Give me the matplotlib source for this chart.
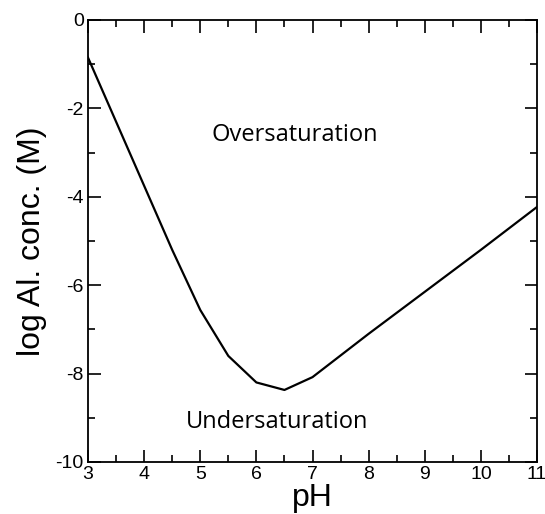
import matplotlib
matplotlib.use("Agg")
import matplotlib.pyplot as plt
from matplotlib.ticker import MultipleLocator

plt.rcParams["axes.unicode_minus"] = False

ph = [3.0, 3.5, 4.0, 4.5, 5.0, 5.5, 6.0, 6.5, 7.0, 8.0, 9.0, 10.0, 11.0]
log_al = [-0.85, -2.3, -3.75, -5.2, -6.56, -7.6, -8.2, -8.37, -8.08, -7.1, -6.15, -5.2, -4.23]

region_labels = ["Oversaturation", "Undersaturation"]
region_x = [6.68, 6.36]
region_y = [-2.6, -9.09]

fig = plt.figure(figsize=(5.45, 5.14), dpi=100)
ax = fig.add_axes([88/545, 52/514, (537-88)/545, (462-20)/514])

ax.plot(ph, log_al, color="black", linewidth=1.6)

for t, x, y in zip(region_labels, region_x, region_y):
    ax.text(x, y, t, ha="center", va="center", fontsize=17, family="Open Sans")

ax.set_xlim(3, 11)
ax.set_ylim(-10, 0)
ax.xaxis.set_major_locator(MultipleLocator(1))
ax.xaxis.set_minor_locator(MultipleLocator(0.5))
ax.yaxis.set_major_locator(MultipleLocator(2))
ax.yaxis.set_minor_locator(MultipleLocator(1))
ax.tick_params(which="both", direction="in", top=True, right=True, width=1.2,
               labelsize=14, pad=3)
ax.tick_params(which="major", length=9)
ax.tick_params(which="minor", length=5)
for lab in ax.get_xticklabels() + ax.get_yticklabels():
    lab.set_family("Liberation Sans")
for s in ax.spines.values():
    s.set_linewidth(1.3)

ax.set_xlabel("pH", fontsize=23, family="Liberation Sans", labelpad=0)
ax.set_ylabel("log Al. conc. (M)", fontsize=23, family="Liberation Sans", labelpad=6)

fig.savefig("out.png", dpi=100)
